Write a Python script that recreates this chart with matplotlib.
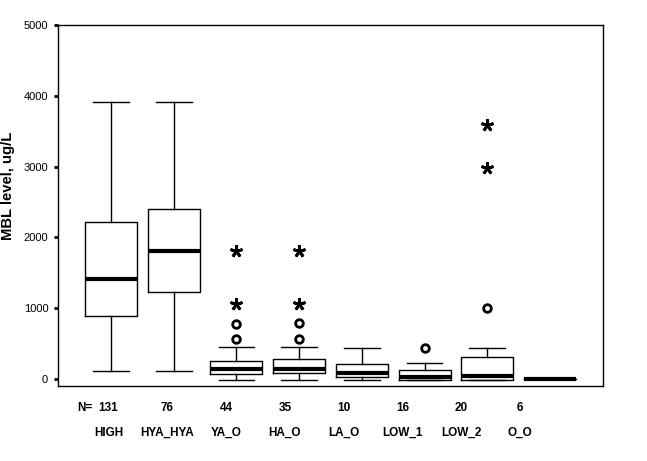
import matplotlib
matplotlib.use("Agg")
import matplotlib.pyplot as plt

categories = ["HIGH", "HYA_HYA", "YA_O", "HA_O", "LA_O", "LOW_1", "LOW_2", "O_O"]
counts = [131, 76, 44, 35, 10, 16, 20, 6]
whisk_lo = [113, 113, -15, -15, -10, -14, -14, 0]
q1 = [886, 1229, 71, 80, 24, -14, -14, 0]
median = [1408, 1804, 143, 146, 80, 24, 47, 0]
q3 = [2222, 2397, 248, 278, 208, 127, 315, 0]
whisk_hi = [3910, 3910, 448, 448, 433, 222, 433, 0]
circle_out = [[], [], [561, 770], [565, 785], [], [433], [1007], []]
star_out = [[], [], [1064, 1812], [1064, 1812], [], [], [2980, 3588], []]
yticks = [0, 1000, 2000, 3000, 4000, 5000]

plt.rcParams['font.family'] = ['Liberation Sans', 'DejaVu Sans']

fig = plt.figure(figsize=(6.47, 4.61), dpi=100)
ax = fig.add_axes([0.0896, 0.1627, 0.8424, 0.7831])

positions = list(range(1, len(categories) + 1))
stats = []
for i in range(len(categories)):
    stats.append(dict(whislo=whisk_lo[i], q1=q1[i], med=median[i], q3=q3[i],
                      whishi=whisk_hi[i], fliers=[], label=categories[i]))

ax.bxp(stats, positions=positions, widths=0.83, capwidths=0.57,
       showfliers=False, patch_artist=False,
       boxprops=dict(color='black', linewidth=1),
       whiskerprops=dict(color='black', linewidth=1),
       capprops=dict(color='black', linewidth=1),
       medianprops=dict(color='black', linewidth=3, solid_capstyle='butt'))

for i, pos in enumerate(positions):
    if circle_out[i]:
        ax.plot([pos] * len(circle_out[i]), circle_out[i], linestyle='none',
                marker='o', markersize=5.5, markerfacecolor='white',
                markeredgecolor='black', markeredgewidth=2)
    if star_out[i]:
        ax.plot([pos] * len(star_out[i]), star_out[i], linestyle='none',
                marker=(5, 2, 0), markersize=9, markeredgecolor='black',
                markeredgewidth=2)

ax.set_xlim(0.155, 8.845)
ax.set_ylim(-99, 5000)
ax.set_yticks(yticks)
ax.set_yticklabels([str(t) for t in yticks], fontsize=8)
ax.tick_params(axis='y', length=3, width=2, pad=4, direction='out')
ax.set_xticks([])
for s in ax.spines.values():
    s.set_linewidth(1)
    s.set_color('black')

ax.set_ylabel("MBL level, ug/L", fontsize=10.7, fontweight='bold')
ax.yaxis.set_label_coords(-0.078, 0.554)

# Bottom labels (N counts and category names)
xt = ax.get_xaxis_transform()
for i in range(len(categories)):
    xl = 0.96 + i * 0.938
    ax.text(xl, -0.06, str(counts[i]), transform=xt, ha='center', va='center',
            fontsize=8.5, fontweight='bold')
    ax.text(xl, -0.131, categories[i], transform=xt,
            ha='center', va='center', fontsize=8.5, fontweight='bold')
ax.text(0.70, -0.06, "N=", transform=xt,
        ha='right', va='center', fontsize=8.5, fontweight='bold')

fig.savefig("out.png", dpi=100, facecolor='white')
